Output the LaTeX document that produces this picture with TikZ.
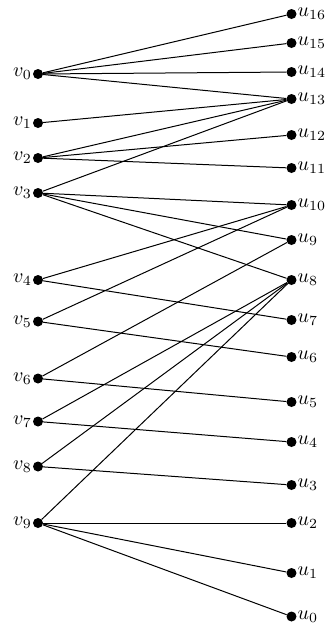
\documentclass[tikz,border=0pt]{standalone}
\usepackage{tikz}
\usetikzlibrary{positioning}
\tikzset{
	vert/.style={circle,fill=black,inner sep=0pt,minimum size=10pt},
	lab/.style={scale=2,inner sep=0.3pt},
	edge/.style={line width=1pt}
}

\begin{document}
\begin{tikzpicture}[x=1pt,y=-1pt]
		
		\useasboundingbox (0,0) rectangle (326,630);
		
		% left column
		\foreach \i/\y in {0/74,1/123,2/158,3/193,4/280,5/321.5,6/378.5,7/421.5,8/466.5,9/523}
		{
			\node[vert,label={[lab,label distance=0pt]left:$v_{\i}$}] (v\i) at (38,\y) {};
		}
		
		% right column
		\foreach \i/\y in {16/14,15/43,14/72,13/99,12/135,11/168,10/205,9/240,8/280,7/320,6/357,5/402,4/442,3/485,2/523,1/573,0/616.5}
		{
			\node[vert,label={[lab,label distance=0pt]right:$u_{\i}$}] (u\i) at (291.5,\y) {};
		}
		
		% edges
		\foreach \a/\b in {0/16,0/15,0/14,0/13,1/13,2/13,2/12,2/11,3/13,3/10,3/9,3/8,4/10,4/7,5/10,5/6,6/9,6/5,7/8,7/4,8/8,8/3,9/8,9/2,9/1,9/0}
		{
			\draw[edge] (v\a) -- (u\b);
		}
		
	\end{tikzpicture}
\end{document}
